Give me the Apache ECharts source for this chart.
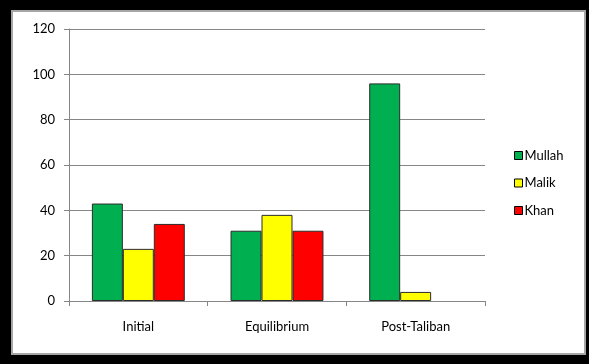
<!DOCTYPE html>
<html>
<head>
<meta charset="utf-8">
<script src="https://cdn.jsdelivr.net/npm/echarts@6/dist/echarts.min.js"></script>
<style>
  html, body { margin: 0; padding: 0; width: 589px; height: 364px; background: #000; overflow: hidden; }
  #frame { position: absolute; left: 11px; top: 10px; width: 571px; height: 341px;
           background: #fff; border: 2px solid #a6a6a6; }
  #chart { position: absolute; left: 0; top: 0; width: 589px; height: 364px; }
</style>
</head>
<body>
<div id="frame"></div>
<div id="chart"></div>
<script>
// Categories and series values
const categories = ['Initial', 'Equilibrium', 'Post-Taliban'];
const mullah = [43, 31, 96];
const malik = [23, 38, 4];
const khan = [34, 31, 0];
const yTicks = { min: 0, max: 120, interval: 20 };

const font = 'Lato, "Open Sans", sans-serif';
const chart = echarts.init(document.getElementById('chart'), null, { renderer: 'canvas' });

function barSeries(name, values, color) {
  return {
    name: name,
    type: 'bar',
    // a zero-height bar gets no outline
    data: values.map(v => (v === 0 ? { value: v, itemStyle: { borderWidth: 0 } } : v)),
    barGap: '0%',
    barCategoryGap: '33%',
    itemStyle: { color: color, borderColor: '#2b2b2b', borderWidth: 1 }
  };
}

chart.setOption({
  backgroundColor: 'transparent',
  animation: false,
  textStyle: { fontFamily: font },
  grid: { left: 69, right: 104, top: 29, bottom: 63 },
  legend: {
    orient: 'vertical',
    left: 509,
    top: 144,
    itemWidth: 8,
    itemHeight: 8,
    itemGap: 14.5,
    icon: 'rect',
    textStyle: { fontFamily: font, fontSize: 13, color: '#000', padding: [0, 0, 0, -3] },
    itemStyle: { borderColor: '#000', borderWidth: 1 },
    data: ['Mullah', 'Malik', 'Khan']
  },
  xAxis: {
    type: 'category',
    data: categories,
    boundaryGap: true,
    axisLine: { lineStyle: { color: '#868686', width: 1 } },
    axisTick: { show: true, length: 5, lineStyle: { color: '#868686' } },
    axisLabel: { margin: 19, fontSize: 13, color: '#000', fontFamily: font }
  },
  yAxis: {
    type: 'value',
    min: yTicks.min,
    max: yTicks.max,
    interval: yTicks.interval,
    axisLine: { show: true, lineStyle: { color: '#868686', width: 1 } },
    axisTick: { show: true, length: 5, lineStyle: { color: '#868686' } },
    axisLabel: { margin: 14, fontSize: 13, color: '#000', fontFamily: font },
    splitLine: { lineStyle: { color: '#868686', width: 1 } }
  },
  series: [
    barSeries('Mullah', mullah, '#00b050'),
    barSeries('Malik', malik, '#ffff00'),
    barSeries('Khan', khan, '#ff0000')
  ]
});
</script>
</body>
</html>
